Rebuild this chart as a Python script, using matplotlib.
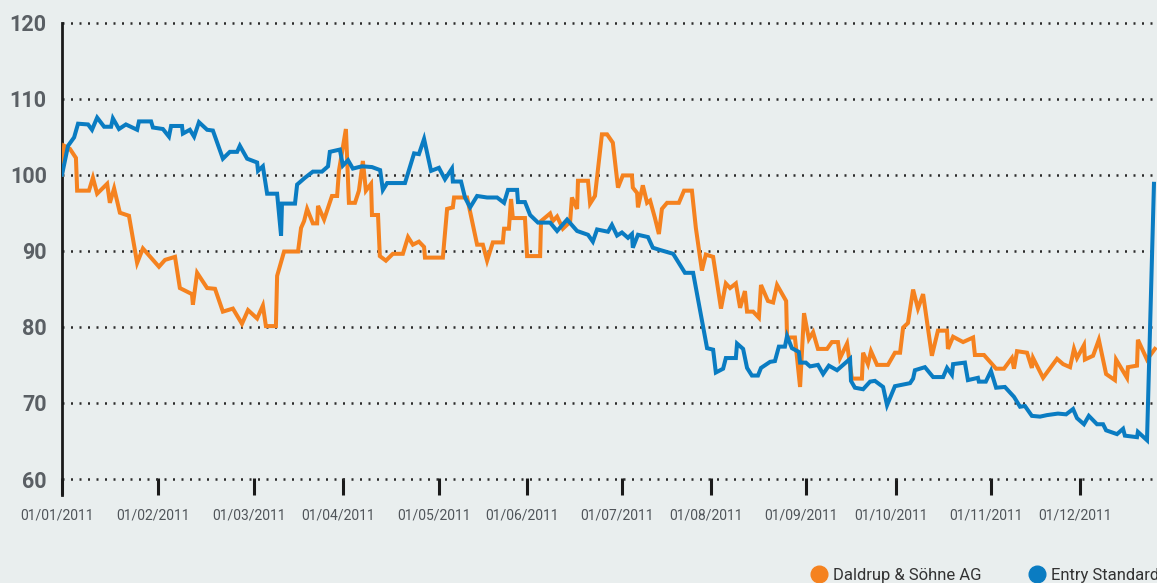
import matplotlib
matplotlib.use("agg")
import matplotlib.pyplot as plt
from matplotlib.lines import Line2D
from matplotlib.transforms import ScaledTranslation

# day index (position along the year) and indexed value
daldrup_day = [0, 0.7, 2.6, 4.6, 5.0, 8.9, 10.2, 11.6, 14.9, 15.8, 17.2, 19.1, 22.1, 24.8, 26.7,
               32.0, 34.0, 37.3, 38.9, 42.9, 43.2, 44.6, 47.9, 50.5, 53.1, 56.4, 59.4, 61.4,
               64.4, 66.3, 67.3, 70.6, 71.0, 73.3, 77.9, 78.9, 79.9, 80.9, 82.8, 84.2, 84.5,
               86.5, 89.1, 90.8, 91.4, 93.7, 94.7, 96.7, 98.0, 99.3, 100.3, 102.0, 102.3,
               104.3, 104.9, 106.9, 109.2, 112.5, 114.2, 115.8, 117.8, 119.5, 119.8, 125.7,
               127.1, 129.0, 129.4, 133.7, 137.0, 138.9, 140.3, 142.2, 145.5, 145.9, 147.5,
               148.2, 148.8, 152.8, 153.5, 157.8, 158.1, 161.1, 162.0, 163.4, 165.3, 167.7,
               168.3, 170.0, 170.3, 173.6, 174.3, 175.9, 178.2, 179.9, 181.8, 183.5, 185.1,
               188.1, 188.4, 189.8, 190.1, 191.7, 193.1, 194.1, 195.7, 197.0, 198.0, 199.7,
               203.6, 205.3, 207.9, 209.2, 211.2, 212.5, 214.9, 217.5, 219.1, 220.5, 222.4,
               223.8, 225.4, 226.1, 228.1, 230.0, 230.7, 233.0, 234.7, 236.0, 239.0, 239.3,
               241.9, 243.6, 244.9, 246.5, 247.9, 249.5, 252.5, 254.1, 256.1, 256.8, 259.1,
               260.7, 264.0, 264.4, 266.0, 267.0, 269.0, 272.6, 274.9, 276.6, 277.6, 279.2,
               280.9, 282.5, 284.2, 287.1, 289.1, 292.1, 292.4, 294.1, 297.4, 300.7, 301.3,
               304.3, 308.3, 310.9, 313.5, 314.2, 315.2, 318.5, 320.1, 320.5, 323.8, 328.4,
               330.4, 332.7, 334.0, 335.0, 337.3, 337.6, 340.3, 342.2, 344.6, 347.5, 347.9,
               351.5, 351.8, 354.8, 355.1, 358.1, 360.7]
daldrup_val = [100.0, 103.8, 103.4, 102.2, 97.9, 97.9, 99.6, 97.5, 98.8, 96.3, 98.2, 95.0, 94.6, 88.4, 90.3,
               87.9, 88.8, 89.2, 85.1, 84.3, 82.9, 87.1, 85.1, 85.0, 82.0, 82.4, 80.4, 82.2,
               81.1, 82.8, 80.1, 80.1, 86.7, 89.9, 89.9, 93.0, 93.9, 95.5, 93.6, 93.6, 95.9,
               94.1, 97.2, 97.2, 100.5, 106.0, 96.3, 96.3, 97.9, 101.8, 97.9, 98.8, 94.7,
               94.7, 89.3, 88.7, 89.6, 89.6, 91.8, 90.8, 91.2, 90.5, 89.1, 89.1,
               95.5, 95.7, 97.0, 97.0, 90.8, 90.8, 88.7, 91.1, 91.1, 92.9, 92.9,
               96.8, 94.3, 94.3, 89.3, 89.3, 93.9, 94.9, 93.9, 94.5, 92.9, 93.8,
               97.0, 95.5, 99.2, 99.2, 96.2, 97.2, 105.3, 105.3, 104.2, 98.3, 99.9,
               99.9, 98.3, 97.6, 95.7, 98.6, 96.3, 96.6, 94.3, 92.2, 95.5, 96.3,
               96.3, 97.9, 97.9, 93.0, 87.4, 89.5, 89.2, 82.4, 85.7, 85.1, 85.7,
               82.5, 84.7, 82.0, 82.0, 81.2, 85.5, 83.4, 83.2, 85.5, 83.4, 78.6,
               78.6, 72.1, 81.8, 78.4, 79.3, 77.1, 77.1, 78.0, 78.0, 75.9, 77.8,
               73.2, 73.2, 76.6, 75.1, 76.8, 75.0, 75.0, 76.6, 76.6, 79.9, 80.5,
               84.9, 82.4, 84.3, 76.2, 79.5, 79.5, 77.1, 78.7, 78.0, 78.6, 76.3,
               76.3, 74.5, 74.5, 75.9, 74.5, 76.8, 76.6, 74.6, 75.9, 73.3, 75.8,
               75.1, 74.7, 77.1, 75.9, 77.6, 75.7, 76.2, 78.3, 73.8, 73.0, 75.7,
               73.3, 74.7, 74.9, 78.3, 75.7, 77.1]

entry_day = [0, 2.0, 4.0, 5.3, 8.6, 9.9, 11.6, 13.9, 16.2, 16.8, 18.8, 21.1, 24.8, 25.4, 29.4,
             30.0, 33.3, 35.3, 36.0, 39.6, 39.9, 42.2, 43.6, 45.2, 47.9, 49.8, 53.1, 55.4,
             57.8, 58.7, 61.1, 64.4, 64.7, 66.3, 67.7, 71.0, 72.3, 72.6, 76.9, 77.6, 80.2,
             82.8, 85.8, 87.8, 88.4, 91.7, 92.7, 94.4, 96.0, 99.0, 102.3, 105.0, 105.9,
             107.3, 113.2, 116.2, 117.8, 119.5, 121.8, 124.4, 126.4, 128.7, 129.0, 131.7,
             133.0, 134.7, 137.0, 140.3, 143.6, 145.9, 147.2, 150.2, 150.5, 152.8, 154.5,
             157.1, 161.1, 163.4, 166.7, 170.0, 173.6, 175.2, 176.6, 180.2, 181.5, 183.2,
             184.8, 186.8, 188.1, 188.4, 190.1, 193.4, 195.0, 197.4, 201.7, 205.6, 208.3,
             212.9, 214.9, 215.8, 218.2, 219.1, 222.4, 222.8, 224.8, 226.1, 227.7, 229.7,
             230.7, 233.7, 235.3, 236.6, 238.6, 239.3, 240.9, 243.2, 243.6, 245.5, 246.9,
             249.5, 251.2, 253.1, 255.8, 260.1, 260.4, 261.7, 264.4, 266.7, 268.3, 271.0,
             272.3, 274.9, 279.9, 280.9, 281.5, 284.8, 287.5, 290.8, 292.1, 293.7, 294.1,
             298.0, 299.0, 302.3, 302.6, 304.9, 306.6, 308.3, 311.2, 314.2, 316.2, 317.8,
             320.1, 322.8, 325.1, 328.7, 331.4, 333.7, 335.0, 337.3, 338.9, 341.6, 343.6,
             344.6, 348.2, 350.2, 350.8, 354.8, 355.1, 358.1, 360.4]
entry_val = [100.0, 103.8, 104.9, 106.7, 106.6, 105.9, 107.5, 106.3, 106.3, 107.4, 106.0, 106.6, 105.9, 107.0, 107.0,
             106.2, 106.0, 105.0, 106.4, 106.4, 105.4, 105.9, 105.0, 106.9, 105.9, 105.8, 102.1, 103.0,
             103.0, 103.8, 102.1, 101.6, 100.5, 101.1, 97.5, 97.5, 92.0, 96.2, 96.2, 98.7, 99.6,
             100.4, 100.4, 101.1, 103.0, 103.3, 101.2, 101.9, 100.8, 101.1, 101.0, 100.6, 98.0,
             98.9, 98.9, 102.8, 102.7, 104.7, 100.5, 100.9, 99.4, 100.8, 99.1, 99.1,
             97.0, 95.7, 97.2, 97.0, 97.0, 96.3, 98.0, 98.0, 96.4, 96.4, 94.7,
             93.7, 93.7, 92.6, 94.1, 92.6, 92.1, 91.2, 92.8, 92.5, 93.4, 92.0,
             92.4, 91.7, 92.2, 90.4, 92.1, 91.8, 90.4, 90.1, 89.6, 87.1, 87.1,
             77.2, 77.0, 74.0, 74.5, 75.9, 75.9, 77.8, 77.1, 74.6, 73.6, 73.6,
             74.6, 75.4, 75.5, 77.4, 77.4, 78.8, 77.2, 76.7, 75.3, 75.3, 74.8,
             75.0, 73.8, 74.9, 74.3, 75.8, 72.9, 72.0, 71.8, 72.8, 72.9, 72.1,
             69.7, 72.2, 72.6, 73.2, 74.3, 74.7, 73.4, 73.4, 74.6, 73.7, 75.1,
             75.3, 73.0, 73.3, 72.8, 72.8, 74.2, 72.0, 72.1, 70.8, 69.5, 69.6,
             68.3, 68.2, 68.4, 68.6, 68.5, 69.2, 68.0, 67.2, 68.3, 67.2, 67.2,
             66.4, 65.9, 66.6, 65.7, 65.5, 66.2, 65.1, 98.8]

tick_days = [0, 31.7, 63.3, 92.6, 124.4, 153.4, 184.8, 214.2, 245.7, 275.1, 306.6, 336.0]
tick_labels = ["01/01/2011", "01/02/2011", "01/03/2011", "01/04/2011", "01/05/2011", "01/06/2011",
               "01/07/2011", "01/08/2011", "01/09/2011", "01/10/2011", "01/11/2011", "01/12/2011"]
series_names = ["Daldrup & Söhne AG", "Entry Standard"]

ORANGE = "#f5821f"
BLUE = "#0a7cc2"
BG = "#e9eeee"
FONT = ["Roboto", "DejaVu Sans"]

fig = plt.figure(figsize=(11.57, 5.83), dpi=100, facecolor=BG)
ax = fig.add_axes([62 / 1157, 88 / 583, 1 - 62 / 1157, 472.5 / 583], facecolor=BG)

ax.plot(daldrup_day, daldrup_val, color=ORANGE, lw=2.9, solid_joinstyle="miter", zorder=3)
ax.plot(entry_day, entry_val, color=BLUE, lw=2.9, solid_joinstyle="miter", zorder=4)

ax.set_xlim(0, 361.4)
ax.set_ylim(57.9, 120)

for side in ["top", "right", "bottom"]:
    ax.spines[side].set_visible(False)
ax.spines["left"].set_color("#1a1a1a")
ax.spines["left"].set_linewidth(2.0)

ax.set_yticks(range(60, 121, 10))
ax.yaxis.grid(True, linestyle=(0, (0.8, 2.6)), color="#2b2b2b", lw=1.8, clip_on=False)
ax.set_axisbelow(True)
ax.tick_params(axis="y", length=0, pad=11)
for lbl in ax.get_yticklabels():
    lbl.set_family(FONT)
    lbl.set_fontweight("bold")
    lbl.set_fontsize(15.5)
    lbl.set_color("#5a5f64")

ax.set_xticks(tick_days)
ax.set_xticklabels(tick_labels, family=FONT, fontsize=10, color="#50555a")
ax.tick_params(axis="x", direction="in", length=12, width=2.2, color="#1a1a1a", pad=10)
shift = ScaledTranslation(-5 / 100, 0, fig.dpi_scale_trans)
for lbl in ax.get_xticklabels():
    lbl.set_transform(lbl.get_transform() + shift)

handles = [Line2D([], [], ls="", marker="o", ms=12, color=c, mec=c) for c in (ORANGE, BLUE)]
fig.legend(handles, series_names, loc="lower right", bbox_to_anchor=(1.002, 0.0), ncol=2,
           frameon=False, prop={"family": FONT, "size": 12}, labelcolor="#333333",
           handlelength=0.9, handletextpad=0.4, columnspacing=2.9, borderaxespad=0, borderpad=0)

fig.savefig("out.png", dpi=100, facecolor=BG)
